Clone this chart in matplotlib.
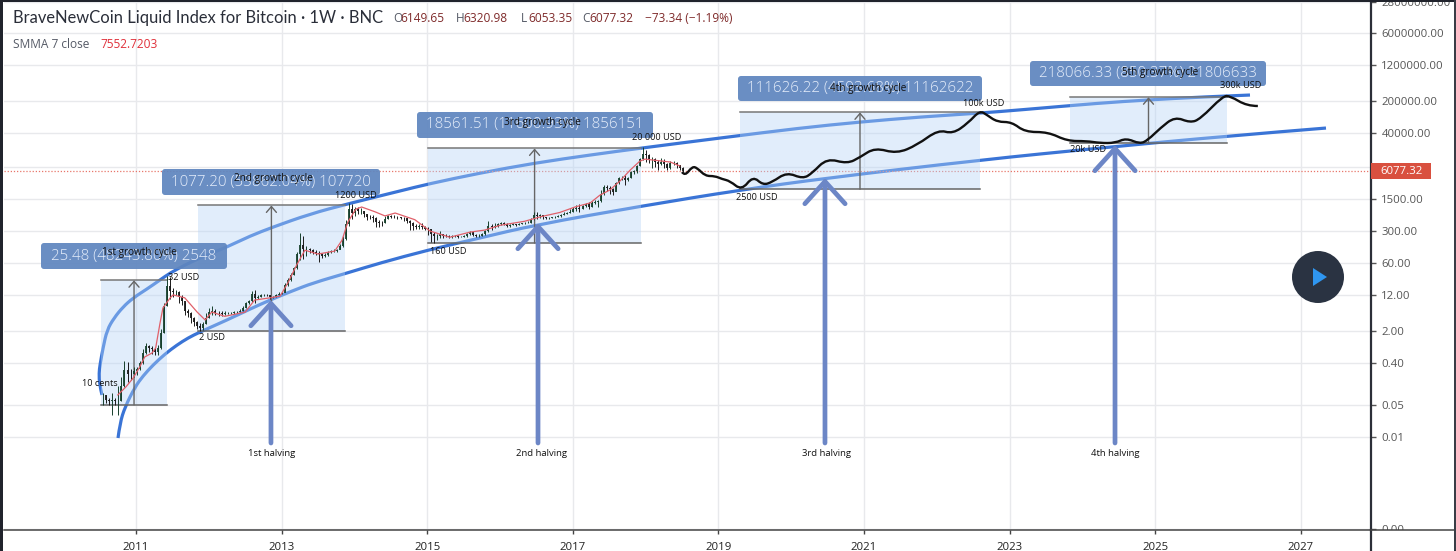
import numpy as np
import matplotlib
matplotlib.use("Agg")
import matplotlib.pyplot as plt
from matplotlib.patches import FancyBboxPatch, Rectangle, Circle, Polygon, PathPatch
from matplotlib.path import Path
from matplotlib.lines import Line2D
from matplotlib.transforms import Affine2D, Bbox, TransformedBbox

W, H = 1456, 551

# ---------- data ----------
candle_start = 2010.55
candle_step = 1 / 24
closes = [.08,.065,.06,.065,.06,.06,.13,.28,.24,.23,
          .27,.30,.40,.68,.95,.88,.80,.72,.85,1.8,
          7,19,15,14,14,11,9,5.5,5,3.8,
          3.2,2.6,2.3,2.9,3.8,5.2,5.5,5,4.9,4.8,
          5,5,5,5.1,5.2,5.6,6.5,8,9,13,
          10.5,11,12,12.5,12,11,11,12,13,13.5,
          20,26,34,47,95,150,120,120,115,105,
          100,95,85,90,105,110,110,115,140,200,
          420,900,750,900,800,800,700,620,600,580,
          480,450,440,560,640,620,610,600,590,580,
          500,460,380,370,390,370,340,330,260,230,
          230,260,240,235,225,230,235,225,228,235,
          260,280,250,240,240,255,300,380,360,390,
          420,440,420,390,410,420,415,420,440,445,
          455,540,680,640,660,600,580,590,600,610,
          640,660,700,740,780,900,970,900,1050,1150,
          1020,1200,1300,1350,1900,2700,2600,2500,2100,3300,
          4200,4300,3800,4300,5700,6100,7800,11000,14000,13500,
          11000,11000,9500,8500,9500,8800,7000,8900,9000,8000,7200,6077.32]
highs = [.09,.08,.07,.09,.07,.13,.20,.46,.42,.30,
         .33,.34,.46,.80,1.1,1.0,.95,.85,1.0,2.2,
         8,32,30,17,16,15,12,8.5,6,5.3,
         4,3.4,3,3.2,5,6.5,7.2,6,5.6,5.4,
         5.4,5.3,5.3,5.4,5.6,6,6.9,8.6,9.6,15,
         15.5,12,12.7,13,13,12.5,11.6,12.6,14,14,
         22,28,37,50,105,266,240,140,130,125,
         115,110,100,100,110,115,120,125,155,230,
         520,1200,1150,1000,1000,950,800,720,680,680,
         600,520,500,630,680,680,660,640,620,620,
         590,520,470,420,430,460,390,370,330,290,
         260,300,265,255,245,245,250,245,240,245,
         270,300,285,260,260,270,320,500,420,440,
         460,470,470,440,430,440,435,440,460,470,
         490,580,780,780,700,680,620,610,620,640,
         660,720,760,780,900,980,1100,1180,1120,1250,
         1280,1350,1400,1450,2300,3000,3000,2900,2600,3500,
         4400,4800,4900,4500,6100,6400,8200,11500,20000,17000,
         14500,12000,11500,10500,11500,11000,9000,9900,9900,9500,8300,7400]
lows = [.05,.055,.05,.03,.05,.03,.06,.12,.16,.17,
        .20,.22,.28,.38,.65,.70,.65,.60,.62,.80,
        1.8,7,10,11,12,8,7.5,4.6,4,3,
        2.6,2.2,2,2.1,2.8,3.9,4.5,4.5,4.2,4.3,
        4.5,4.7,4.8,4.8,5,5.1,5.5,6.5,7.6,8.8,
        8,9.8,11,11.8,11.4,10.2,10.4,10.8,12.5,12.8,
        15,19,25,33,46,70,75,85,100,95,
        90,65,78,80,85,100,105,105,125,135,
        190,380,550,640,700,720,600,520,560,480,
        370,370,390,440,540,580,570,560,550,500,
        460,320,320,330,340,330,310,250,170,165,
        190,210,215,220,210,215,220,215,218,220,
        225,250,230,220,225,235,250,290,310,350,
        370,410,400,360,370,400,390,400,420,430,
        440,450,530,550,580,560,540,560,580,590,
        600,620,680,700,740,770,800,760,900,1000,
        900,1000,1150,1000,1300,1800,2200,1950,1800,2500,
        3200,3800,3000,3600,4200,5300,5600,7700,10500,9500,
        9000,7000,7500,6500,8000,7000,6500,6600,8000,7200,6500,5900]

smma_years = [2010.75,2010.86,2010.96,2011.05,2011.12,2011.22,2011.27,2011.33,2011.37,2011.47,2011.51,
              2011.67,2011.84,2011.95,2012.04,2012.22,2012.50,2012.63,2012.84,2012.98,
              2013.09,2013.21,2013.32,2013.50,2013.73,2013.83,2013.91,2014.02,2014.10,2014.28,
              2014.42,2014.56,2014.83,2015.04,2015.31,2015.59,2015.79,2016.00,2016.34,2016.55,
              2016.82,2017.03,2017.24,2017.37,2017.51,2017.65,2017.79,2017.92,2017.99,2018.10,2018.34,2018.47]
smma_values = [.082,.122,.19,.33,.55,.67,.86,3.0,6.4,10.6,12.3,
               10.6,5.2,3.5,5.2,4.2,5.2,9.5,10.6,11.6,
               23,56,115,95,110,190,470,900,1000,790,
               640,740,530,300,220,285,315,400,490,610,
               760,1000,1230,1800,2350,3700,6400,9900,11000,10500,9500,7800]

forecast_years = [2018.50,2018.54,2018.64,2018.71,2018.82,2018.95,2019.05,2019.16,2019.32,2019.475,
                  2019.61,2019.74,2019.94,2020.16,2020.29,2020.49,2020.77,2020.95,2021.15,2021.45,
                  2021.73,2022.02,2022.22,2022.43,2022.59,2022.69,2022.83,2023.03,2023.21,2023.53,
                  2023.79,2024.06,2024.24,2024.45,2024.60,2024.79,2024.90,2025.07,2025.27,2025.48,
                  2025.62,2025.93,2026.03,2026.26,2026.41]
forecast_values = [5760,4700,7600,7050,4720,4720,4060,3670,2300,4700,
                   3000,3490,5700,4100,5480,11500,8700,12200,19500,14500,
                   22300,48000,39000,67000,125000,100000,70500,70500,42700,42700,
                   27200,27200,24600,24600,31500,23500,28600,52000,92000,68000,
                   82000,259000,259000,157000,157000]

upper_years = [2010.533,2010.499,2010.492,2010.505,2010.547,2010.602,2010.698,2010.821,2010.959,2011.151,2011.33,
               2011.467,2011.673,2011.879,2012.25,2012.566,2012.882,2013.39,2013.898,2014.626,2015.011,2015.725,
               2016.481,2017.236,2017.95,2019.022,2020.121,2020.945,2021.769,2022.593,2023.143,2024.242,
               2024.887,2025.615,2026.302]
upper_values = [.082,.135,.246,.367,.86,2.12,3.86,6.7,10.5,16.5,25.9,
                36.7,55,78,135,234,367,704,1160,2230,3160,5480,
                9050,13500,19200,31600,52100,70500,90600,110000,129000,182000,
                212000,246000,272000]
lower_years = [2010.753,2010.78,2010.849,2010.986,2011.096,2011.234,2011.398,2011.563,2011.714,2011.879,2012.25,
               2012.538,2012.841,2013.143,2013.431,2013.898,
               2014.352,2015.011,2015.725,2016.481,2017.95,2019.297,2020.492,2022.593,2024.242,2025.986,2027.346]
lower_values = [.0095,.0201,.0449,.122,.212,.367,.637,1,1.42,1.92,3.49,
                5.77,9.5,14.9,22.3,36.7,
                60.6,116,212,406,1052,2340,4270,10500,19200,34900,52100]

cycle_starts = [2010.52, 2011.85, 2015.01, 2019.297, 2023.83]
cycle_ends = [2011.426, 2013.87, 2017.94, 2022.593, 2025.986]
cycle_lows = [0.05, 2, 165, 2430, 24600]
cycle_highs = [25.53, 1079.2, 18727, 114056, 242666]

halving_years = [2012.854, 2016.522, 2020.464, 2024.448]
halving_tips = [9.5, 449, 4270, 22300]
arrow_base = 0.0074

last_price = 6077.32
ytick_values = [1e-4, .01, .05, .4, 2, 12, 60, 300, 1500, 7500, 40000, 200000, 1200000, 6000000, 28000000]
ytick_labels = ["0.00", "0.01", "0.05", "0.40", "2.00", "12.00", "60.00", "300.00", "1500.00", "7500.00",
                "40000.00", "200000.00", "1200000.00", "6000000.00", "28000000.00"]
xtick_years = [2011, 2013, 2015, 2017, 2019, 2021, 2023, 2025, 2027]

cycle_labels = ["25.48 (48243.80%) 2548", "1077.20 (53862.04%) 107720", "18561.51 (11600.93%) 1856151",
                "111626.22 (4593.68%) 11162622", "218066.33 (850.37%) 21806633"]
cycle_names = ["1st growth cycle", "2nd growth cycle", "3rd growth cycle", "4th growth cycle", "5th growth cycle"]
halving_names = ["1st halving", "2nd halving", "3rd halving", "4th halving"]


def curve_path(xs, ys):
    """Quadratic Bezier path using the read values as control points."""
    x = np.asarray(xs, float)
    y = np.log10(np.asarray(ys, float))
    verts = [(x[0], y[0])]
    codes = [Path.MOVETO]
    for i in range(1, len(x) - 1):
        verts.append((x[i], y[i]))
        codes.append(Path.CURVE3)
        if i < len(x) - 2:
            end = ((x[i] + x[i + 1]) / 2, (y[i] + y[i + 1]) / 2)
        else:
            end = (x[i + 1], y[i + 1])
        verts.append(end)
        codes.append(Path.CURVE3)
    v = np.array(verts)
    v[:, 1] = 10 ** v[:, 1]
    return Path(v, codes)


# ---------- figure ----------
plt.rcParams['font.family'] = ['Open Sans', 'DejaVu Sans']
fig = plt.figure(figsize=(W / 100, H / 100), dpi=100, facecolor='white')
L, R, T, B = 4, 1371, 2, 530
ax = fig.add_axes([L / W, (H - B) / H, (R - L) / W, (B - T) / H])
px = Affine2D().scale(1 / W, -1 / H).translate(0, 1) + fig.transFigure

ax.set_yscale('log')
ax.set_xlim(2011 + (L - 136) / 72.8, 2011 + (R - 136) / 72.8)
ax.set_ylim(10 ** -4.022, 10 ** 7.457)
ax.yaxis.tick_right()
ax.set_yticks(ytick_values)
ax.set_yticklabels(ytick_labels)
ax.minorticks_off()
ax.set_xticks(xtick_years)
ax.set_xticklabels([str(y) for y in xtick_years])
ax.grid(True, color='#e8e9ec', lw=1)
ax.set_axisbelow(True)
ax.tick_params(axis='y', length=3.5, width=1, color='#555555', labelcolor='#555555', labelsize=8.2, pad=4)
ax.tick_params(axis='x', length=3, width=1, color='#444444', labelcolor='#222222', labelsize=8.2, pad=5.5)
for lab in ax.get_yticklabels():
    lab.set_ha('left')
for s in ('top', 'left'):
    ax.spines[s].set_visible(False)
ax.spines['right'].set_color('#2c2f38')
ax.spines['right'].set_linewidth(1.6)
ax.spines['bottom'].set_color('#444444')
ax.spines['bottom'].set_linewidth(1.1)

# clip the 0.00 label at the time-axis line
zero_label = ax.get_yticklabels()[0]
zero_label.set_clip_box(TransformedBbox(Bbox([[R, H - B], [W, H]]), Affine2D()))
zero_label.set_clip_on(True)

# guide curves
for xs, ys in ((upper_years, upper_values), (lower_years, lower_values)):
    ax.add_patch(PathPatch(curve_path(xs, ys), fill=False, edgecolor='#3a74d6', lw=2.3, zorder=2, capstyle='butt'))

# price line
ax.axhline(last_price, color='#e8766a', lw=0.9, ls=(0, (1, 1.5)), zorder=2)

# growth cycle rectangles
for x0, x1, lo, hi in zip(cycle_starts, cycle_ends, cycle_lows, cycle_highs):
    ax.add_patch(Rectangle((x0, lo), x1 - x0, hi - lo, facecolor=(180 / 255, 212 / 255, 247 / 255), alpha=.4,
                           edgecolor='none', zorder=3))
    ax.plot([x0, x1], [hi, hi], color='#777777', lw=1.1, zorder=4)
    ax.plot([x0, x1], [lo, lo], color='#666666', lw=1.1, zorder=4)
    mid = (x0 + x1) / 2
    ax.annotate('', xy=(mid, hi), xytext=(mid, lo), zorder=4,
                arrowprops=dict(arrowstyle='->,head_length=0.42,head_width=0.36', color='#666666', lw=1.0,
                                mutation_scale=10, shrinkA=0, shrinkB=0))

# candles
n = len(closes)
cx = candle_start + np.arange(n) * candle_step
c = np.array(closes, float)
o = np.r_[c[0], c[:-1]]
up = c >= o
colors = np.where(up, '#17402c', '#1a1a1a')
ax.vlines(cx, lows, highs, colors=colors, lw=0.7, zorder=5)
ax.vlines(cx, np.minimum(o, c), np.maximum(o, c), colors=colors, lw=1.3, zorder=5)

# SMMA
ax.plot(smma_years, smma_values, color='#e0606a', lw=0.9, zorder=6)

# forecast
ax.add_patch(PathPatch(curve_path(forecast_years, forecast_values), fill=False, edgecolor='#111111', lw=1.7, zorder=6))

# halving arrows
for yr, tip in zip(halving_years, halving_tips):
    ax.annotate('', xy=(yr, tip), xytext=(yr, arrow_base), zorder=7, annotation_clip=False,
                arrowprops=dict(arrowstyle='->,head_length=1.6,head_width=1.45', color='#6c86c6', lw=3.4,
                                mutation_scale=10, shrinkA=0, shrinkB=0))

# cycle value boxes
box_px = [(41, 243, 186, 26), (162, 169, 218, 26), (417, 112, 236, 26), (738, 76, 244, 25), (1030, 61, 236, 25)]
for (bx, by, bw, bh), txt in zip(box_px, cycle_labels):
    fig.add_artist(FancyBboxPatch((bx + 3, by + 3), bw - 6, bh - 6, boxstyle='round,pad=3,rounding_size=3',
                                  transform=px, facecolor='#5f86bf', edgecolor='none', alpha=.93, zorder=8))
    fig.text(bx + bw / 2, by + bh / 2, txt, transform=px, color='#e6eefb', fontsize=10.9, ha='center', va='center',
             zorder=9, fontweight='light')

name_px = [(139, 253), (273, 179), (542, 123), (868, 89), (1160, 73)]
for (tx, ty), txt in zip(name_px, cycle_names):
    fig.text(tx, ty, txt, transform=px, color='#111111', fontsize=7.2, ha='center', va='center', zorder=10)

notes = [("32 USD", 168, 278, 'left'), ("2 USD", 199, 338, 'left'), ("10 cents", 82, 384, 'left'),
         ("1200 USD", 356, 195, 'center'), ("160 USD", 430, 252, 'left'), ("20 000 USD", 632, 137, 'left'),
         ("2500 USD", 736, 198, 'left'), ("100k USD", 963, 103, 'left'), ("20k USD", 1070, 150, 'left'),
         ("300k USD", 1220, 86, 'left')]
for txt, tx, ty, ha in notes:
    fig.text(tx, ty, txt, transform=px, color='#111111', fontsize=6.6, ha=ha, va='center', zorder=10)

for tx, txt in zip([272, 541, 826, 1115], halving_names):
    fig.text(tx, 453, txt, transform=px, color='#111111', fontsize=6.8, ha='center', va='center', zorder=10)

# last price tag
fig.add_artist(Rectangle((1371, 163), 60, 16, transform=px, facecolor='#d9503f', edgecolor='none', zorder=8))
fig.text(1380, 171, f"{last_price:.2f}", transform=px, color='white', fontsize=8.2, va='center', zorder=9)

# header
fig.text(13, 18, "BraveNewCoin Liquid Index for Bitcoin · 1W · BNC", transform=px, color='#2a2e39', fontsize=11.9,
         va='center', zorder=10, family=['Lato', 'DejaVu Sans'])
ohlc = [("O", "6149.65", 393), ("H", "6320.98", 456), ("L", "6053.35", 521), ("C", "6077.32", 582)]
for let, val, tx in ohlc:
    fig.text(tx, 18, let, transform=px, color='#555a66', fontsize=8.6, va='center', zorder=10)
    fig.text(tx + 7.5, 18, val, transform=px, color='#7f2a2a', fontsize=8.6, va='center', zorder=10)
fig.text(645, 18, "−73.34 (−1.19%)", transform=px, color='#7f2a2a', fontsize=8.6, va='center', zorder=10)
fig.text(13, 44, "SMMA 7 close", transform=px, color='#555a66', fontsize=8.6, va='center', zorder=10)
fig.text(100, 44, "7552.7203", transform=px, color='#e0303a', fontsize=8.6, va='center', zorder=10)

# play button
fig.add_artist(Circle((1318, 277), 26, transform=px, facecolor='#2a3342', edgecolor='none', zorder=10))
fig.add_artist(Polygon([(1313, 268), (1313, 286), (1327, 277)], closed=True, transform=px, facecolor='#2f96f0',
                       edgecolor='none', zorder=11))

# window frame
fig.add_artist(Line2D([R, R], [B, H], transform=px, color='#2c2f38', lw=1.6, zorder=6))
fig.add_artist(Line2D([R, W], [B, B], transform=px, color='#444444', lw=1.1, zorder=6))
fig.add_artist(Rectangle((0, 0), 3, H, transform=px, facecolor='#20232c', edgecolor='none', zorder=12))
fig.add_artist(Rectangle((0, 0), W, 1.5, transform=px, facecolor='#20232c', edgecolor='none', zorder=12))
fig.add_artist(Rectangle((1454, 0), 2, H, transform=px, facecolor='#3a3d46', edgecolor='none', zorder=12))

fig.savefig('out.png', dpi=100)
